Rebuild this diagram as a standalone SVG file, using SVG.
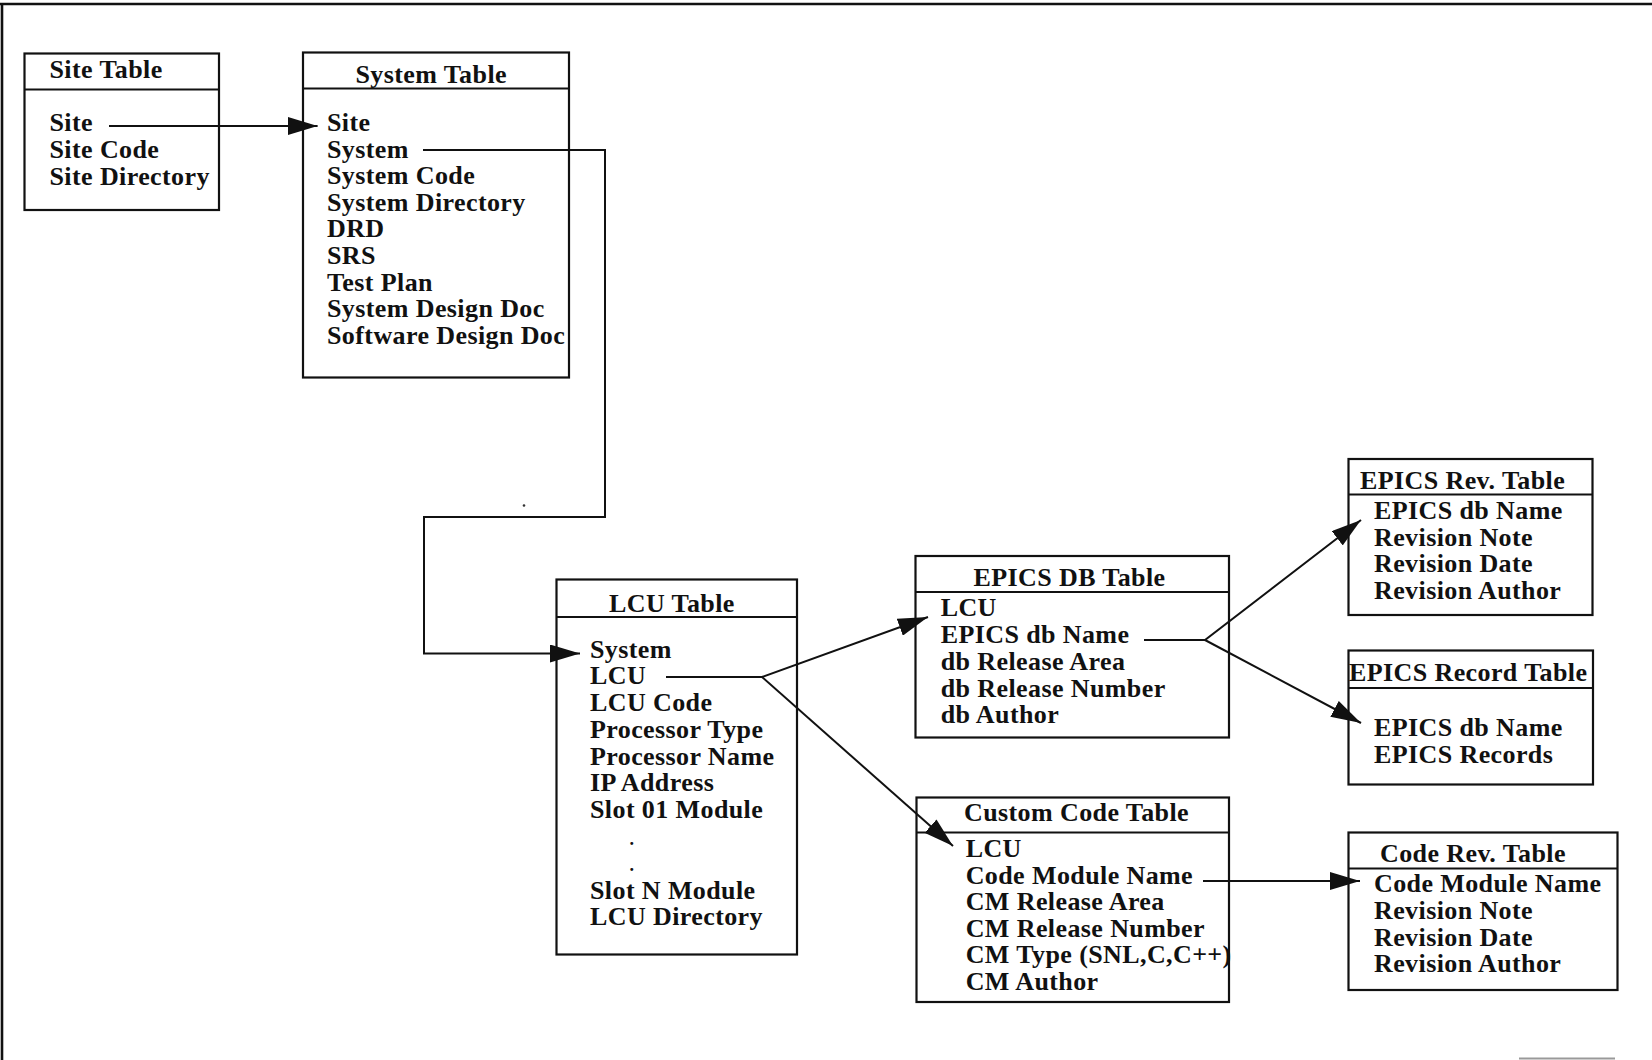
<svg xmlns="http://www.w3.org/2000/svg" width="1652" height="1060" viewBox="0 0 1652 1060">
<style>
text{font-family:"Liberation Serif","Times New Roman",serif;font-weight:bold;font-size:26px;letter-spacing:0.4px;fill:#111}
text.dot{font-size:18px}
.box{fill:#fff;stroke:#111;stroke-width:2.2}
.div{stroke:#111;stroke-width:2.2}
.con{fill:none;stroke:#111;stroke-width:2}
.frame{stroke:#111;stroke-width:2.6;fill:none}
</style>
<defs>
<marker id="ah" viewBox="0 0 30 18" refX="30" refY="9" markerWidth="30" markerHeight="18" markerUnits="userSpaceOnUse" orient="auto">
<path d="M0,0 L30,9 L0,18 z" fill="#111"/>
</marker>
</defs>
<rect width="1652" height="1060" fill="#fff"/>
<g id="frame">
<path class="frame" d="M0,4 H1652 M2,3 V1060"/>
<line x1="1519" y1="1058.5" x2="1615" y2="1058.5" stroke="#999" stroke-width="2"/>
<circle cx="524" cy="505.5" r="1.3" fill="#333"/>
</g>
<g id="site-table">
<rect class="box" x="24.5" y="53.5" width="194.5" height="156.5"/>
<line class="div" x1="24.5" y1="89.5" x2="219" y2="89.5"/>
<text x="49.5" y="77.5">Site Table</text>
<text x="49.5" y="131">Site</text>
<text x="49.5" y="158">Site Code</text>
<text x="49.5" y="184.5">Site Directory</text>
</g>
<g id="system-table">
<rect class="box" x="303" y="52.5" width="266" height="325"/>
<line class="div" x1="303" y1="88.5" x2="569" y2="88.5"/>
<text x="355.5" y="83">System Table</text>
<text x="327" y="131">Site</text>
<text x="327" y="157.5">System</text>
<text x="327" y="184">System Code</text>
<text x="327" y="210.7">System Directory</text>
<text x="327" y="237.3">DRD</text>
<text x="327" y="264">SRS</text>
<text x="327" y="290.7">Test Plan</text>
<text x="327" y="317.3">System Design Doc</text>
<text x="327" y="343.5">Software Design Doc</text>
</g>
<g id="lcu-table">
<rect class="box" x="556.5" y="579.5" width="240.5" height="375"/>
<line class="div" x1="556.5" y1="617" x2="797" y2="617"/>
<text x="609" y="611.5">LCU Table</text>
<text x="590" y="657.5">System</text>
<text x="590" y="684">LCU</text>
<text x="590" y="711">LCU Code</text>
<text x="590" y="738">Processor Type</text>
<text x="590" y="764.6">Processor Name</text>
<text x="590" y="791.4">IP Address</text>
<text x="590" y="818.2">Slot 01 Module</text>
<text class="dot" x="629.5" y="845">.</text>
<text class="dot" x="629.5" y="871">.</text>
<text x="590" y="898.6">Slot N Module</text>
<text x="590" y="925.4">LCU Directory</text>
</g>
<g id="epics-db-table">
<rect class="box" x="915.5" y="556" width="313.5" height="181.5"/>
<line class="div" x1="915.5" y1="592" x2="1229" y2="592"/>
<text x="973.5" y="585.7">EPICS DB Table</text>
<text x="940.7" y="615.7">LCU</text>
<text x="940.7" y="642.7">EPICS db Name</text>
<text x="940.7" y="670">db Release Area</text>
<text x="940.7" y="696.7">db Release Number</text>
<text x="940.7" y="723.3">db Author</text>
</g>
<g id="custom-code-table">
<rect class="box" x="916.5" y="797.5" width="312.5" height="204.5"/>
<line class="div" x1="916.5" y1="832.5" x2="1229" y2="832.5"/>
<text x="964" y="821">Custom Code Table</text>
<text x="965.7" y="856.7">LCU</text>
<text x="965.7" y="884">Code Module Name</text>
<text x="965.7" y="910.3">CM Release Area</text>
<text x="965.7" y="936.7">CM Release Number</text>
<text x="965.7" y="963.3">CM Type (SNL,C,C++)</text>
<text x="965.7" y="990">CM Author</text>
</g>
<g id="epics-rev-table">
<rect class="box" x="1348.5" y="459" width="244" height="156"/>
<line class="div" x1="1348.5" y1="494.5" x2="1592.5" y2="494.5"/>
<text x="1360" y="489.3">EPICS Rev. Table</text>
<text x="1374" y="519">EPICS db Name</text>
<text x="1374" y="545.7">Revision Note</text>
<text x="1374" y="572.3">Revision Date</text>
<text x="1374" y="599">Revision Author</text>
</g>
<g id="epics-record-table">
<rect class="box" x="1348.5" y="650.5" width="244.5" height="134"/>
<line class="div" x1="1348.5" y1="688" x2="1593" y2="688"/>
<text x="1349" y="680.7">EPICS Record Table</text>
<text x="1374" y="736">EPICS db Name</text>
<text x="1374" y="762.7">EPICS Records</text>
</g>
<g id="code-rev-table">
<rect class="box" x="1348.5" y="832.5" width="269" height="157.5"/>
<line class="div" x1="1348.5" y1="868.5" x2="1617.5" y2="868.5"/>
<text x="1380" y="862.3">Code Rev. Table</text>
<text x="1374" y="891.7">Code Module Name</text>
<text x="1374" y="919">Revision Note</text>
<text x="1374" y="945.7">Revision Date</text>
<text x="1374" y="972.3">Revision Author</text>
</g>
<g id="connectors">
<path class="con" d="M109,126 H317.6" marker-end="url(#ah)"/>
<path class="con" d="M423,150 H605 V517 H424 V653.5 H580" marker-end="url(#ah)"/>
<path class="con" d="M666,677 H762 L928,617" marker-end="url(#ah)"/>
<path class="con" d="M762,677 L953,846" marker-end="url(#ah)"/>
<path class="con" d="M1144,640 H1205 L1361,520" marker-end="url(#ah)"/>
<path class="con" d="M1205,640 L1361,723" marker-end="url(#ah)"/>
<path class="con" d="M1203,881 H1360" marker-end="url(#ah)"/>
</g>
</svg>
